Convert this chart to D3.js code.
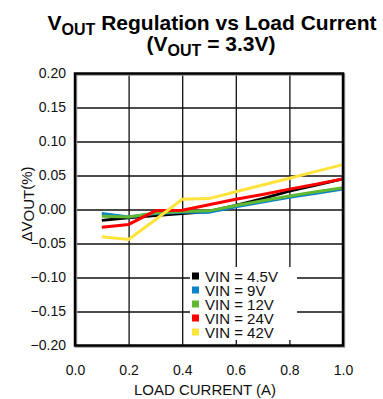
<!DOCTYPE html>
<html>
<head>
<meta charset="utf-8">
<script src="https://cdn.jsdelivr.net/npm/d3@7"></script>
<style>
  body { margin: 0; background: #fff; }
  svg { font-family: "Liberation Sans", Arial, sans-serif; }
</style>
</head>
<body>
<svg class="chart"></svg>
<script>
// load current (A) and deltaVout (%) per input voltage
var current = [0.1, 0.2, 0.3, 0.4, 0.5, 0.6, 0.7, 0.8, 0.9, 1.0];
var vin45 = [-0.016, -0.012, -0.009, -0.006, -0.003, 0.006, 0.016, 0.027, 0.036, 0.045];
var vin9 = [-0.006, -0.011, -0.006, -0.004, -0.004, 0.004, 0.011, 0.018, 0.024, 0.030];
var vin12 = [-0.010, -0.011, -0.005, -0.003, -0.002, 0.006, 0.013, 0.020, 0.026, 0.032];
var vin24 = [-0.026, -0.022, -0.002, -0.001, 0.007, 0.015, 0.022, 0.030, 0.037, 0.045];
var vin42 = [-0.040, -0.044, -0.015, 0.015, 0.016, 0.026, 0.036, 0.046, 0.056, 0.066];
var seriesNames = ["VIN = 4.5V", "VIN = 9V", "VIN = 12V", "VIN = 24V", "VIN = 42V"];
var seriesColors = ["#000000", "#0a84c6", "#62b832", "#ff0000", "#fde33a"];
var xTicks = [0.0, 0.2, 0.4, 0.6, 0.8, 1.0];
var yTicks = [-0.20, -0.15, -0.10, -0.05, 0.00, 0.05, 0.10, 0.15, 0.20];

var series = [vin45, vin9, vin12, vin24, vin42];

var width = 383;
var height = 399;
var pLeft = 75, pRight = 343, pTop = 73.5, pBottom = 345.5;

var x = d3.scaleLinear().domain([0, 1]).range([pLeft, pRight]);
var y = d3.scaleLinear().domain([-0.2, 0.2]).range([pBottom, pTop]);

var svg = d3.select(".chart")
    .attr("width", width)
    .attr("height", height);

// title
var t1 = svg.append("text")
    .attr("x", 212)
    .attr("y", 30)
    .attr("text-anchor", "middle")
    .style("font-weight", "bold")
    .style("font-size", "21px");
t1.append("tspan").text("V");
t1.append("tspan").attr("dy", 5).style("font-size", "16px").text("OUT");
t1.append("tspan").attr("dy", -5).text(" Regulation vs Load Current");

var t2 = svg.append("text")
    .attr("x", 211)
    .attr("y", 51)
    .attr("text-anchor", "middle")
    .style("font-weight", "bold")
    .style("font-size", "21px");
t2.append("tspan").text("(V");
t2.append("tspan").attr("dy", 5).style("font-size", "16px").text("OUT");
t2.append("tspan").attr("dy", -5).text(" = 3.3V)");

// grid
svg.append("g")
    .attr("transform", "translate(0," + pBottom + ")")
    .call(d3.axisBottom(x).tickValues(xTicks).tickSize(-(pBottom - pTop)).tickFormat(""))
    .call(function(g) {
        g.select(".domain").remove();
        g.selectAll("line").attr("stroke", "#111").attr("stroke-width", 1.3);
    });

svg.append("g")
    .attr("transform", "translate(" + pLeft + ",0)")
    .call(d3.axisLeft(y).tickValues(yTicks).tickSize(-(pRight - pLeft)).tickFormat(""))
    .call(function(g) {
        g.select(".domain").remove();
        g.selectAll("line").attr("stroke", "#111").attr("stroke-width", 1.3);
    });

// tick labels
svg.append("g")
    .attr("transform", "translate(" + (pLeft - 9) + ",0)")
    .call(d3.axisLeft(y).tickValues(yTicks).tickSize(0).tickFormat(d3.format(".2f")))
    .call(function(g) {
        g.select(".domain").remove();
        g.selectAll("text")
            .attr("x", 0)
            .style("font-family", "Liberation Sans, Arial, sans-serif")
            .style("font-size", "14px")
            .attr("fill", "#111")
            .text(function(d) { return d === 0 ? "0.00" : d3.format(".2f")(d); });
    });

svg.append("g")
    .attr("transform", "translate(0," + (pBottom + 17) + ")")
    .call(d3.axisBottom(x).tickValues(xTicks).tickSize(0).tickFormat(d3.format(".1f")))
    .call(function(g) {
        g.select(".domain").remove();
        g.selectAll("text")
            .style("font-family", "Liberation Sans, Arial, sans-serif")
            .style("font-size", "14px")
            .attr("fill", "#111");
    });

// axis titles
svg.append("text")
    .attr("x", 205)
    .attr("y", 395)
    .attr("text-anchor", "middle")
    .style("font-size", "15px")
    .attr("fill", "#111")
    .text("LOAD CURRENT (A)");

var yl = svg.append("text")
    .attr("transform", "translate(32,204) rotate(-90)")
    .attr("text-anchor", "middle")
    .style("font-size", "15px")
    .attr("fill", "#111");
yl.append("tspan").text("\u0394V");
yl.append("tspan").attr("dy", 2).text("OUT");
yl.append("tspan").attr("dy", -2).text("(%)");

// lines
var line = d3.line()
    .x(function(d, i) { return x(current[i]); })
    .y(function(d) { return y(d); });

series.forEach(function(s, i) {
    svg.append("path")
        .datum(s)
        .attr("fill", "none")
        .attr("stroke", seriesColors[i])
        .attr("stroke-width", 3)
        .attr("d", line);
});

// legend
svg.append("rect")
    .attr("x", 190)
    .attr("y", 267)
    .attr("width", 107)
    .attr("height", 73)
    .attr("fill", "#fff");

var legend = svg.selectAll(".leg")
    .data(seriesNames)
    .enter()
    .append("g")
    .attr("transform", function(d, i) { return "translate(192," + (276 + i * 14) + ")"; });

legend.append("rect")
    .attr("x", 0)
    .attr("y", -3.5)
    .attr("width", 7)
    .attr("height", 7)
    .attr("fill", function(d, i) { return seriesColors[i]; });

legend.append("text")
    .attr("x", 13)
    .attr("y", 5.5)
    .style("font-size", "15px")
    .attr("fill", "#111")
    .text(function(d) { return d; });

// frame
svg.append("rect")
    .attr("x", pLeft + 1)
    .attr("y", pTop + 1)
    .attr("width", pRight - pLeft)
    .attr("height", pBottom - pTop)
    .attr("fill", "none")
    .attr("stroke", "#999")
    .attr("stroke-width", 2.5);

svg.append("rect")
    .attr("x", pLeft)
    .attr("y", pTop)
    .attr("width", pRight - pLeft)
    .attr("height", pBottom - pTop)
    .attr("fill", "none")
    .attr("stroke", "#000")
    .attr("stroke-width", 2.5);
</script>
</body>
</html>
